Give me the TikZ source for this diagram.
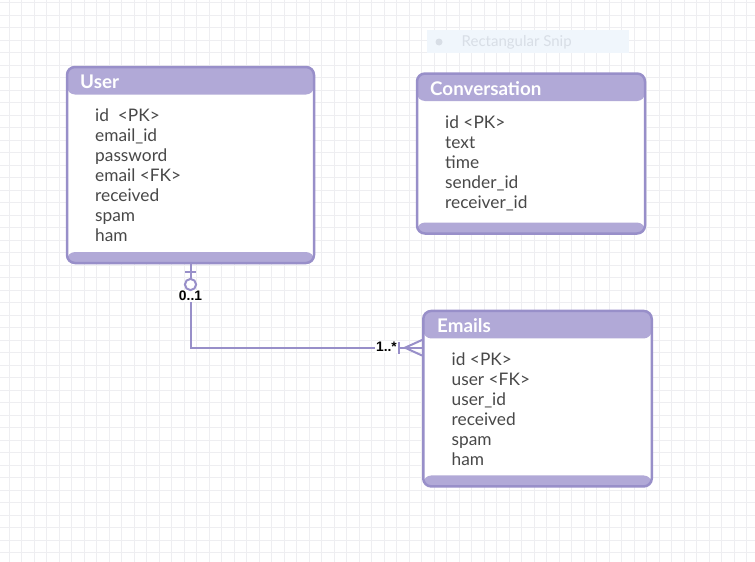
\documentclass[tikz,border=0pt]{standalone}
\usepackage{fontspec}
\setmainfont{Lato}
\newfontfamily\lblfont{Liberation Sans}
\usetikzlibrary{calc}
\definecolor{bord}{RGB}{152,143,201}
\definecolor{hdr}{RGB}{177,169,215}
\definecolor{gridc}{RGB}{238,238,241}
\definecolor{txt}{RGB}{72,72,72}
\definecolor{snipbg}{RGB}{240,246,252}
\definecolor{sniptx}{RGB}{216,222,230}
\tikzset{
  entity/.style={draw=bord, line width=2.5pt, rounded corners=8pt, fill=white, inner sep=0pt,
    path picture={
      \fill[hdr] (path picture bounding box.north west) rectangle ([yshift=-27.5pt]path picture bounding box.north east);
      \fill[hdr] (path picture bounding box.south west) rectangle ([yshift=11pt]path picture bounding box.south east);
    }},
  hdrtext/.style={anchor=west, text=white, font=\fontsize{18.8}{20}\selectfont\bfseries, inner sep=0pt},
  field/.style={anchor=base west, text=txt, font=\fontsize{17.3}{20}\selectfont, inner sep=0pt},
  conn/.style={draw=bord, line width=2pt},
  card/.style={font=\lblfont\fontsize{13.8}{14}\selectfont\bfseries, text=black, inner sep=1pt}
}
\begin{document}
\begin{tikzpicture}[x=1pt,y=-1pt]
\useasboundingbox (0,0) rectangle (755,562);
% grid
\foreach \i in {0,...,60} \draw[gridc, line width=1pt] ({9+12.5*\i},0) -- ({9+12.5*\i},562);
\foreach \j in {0,...,45} \draw[gridc, line width=1pt] (0,{2.7+12.5*\j}) -- (755,{2.7+12.5*\j});

% faint snip overlay
\node[fill=snipbg, minimum width=202pt, minimum height=23pt, inner sep=0pt] (snip) at (528,41.5) {};
\node[circle, fill=sniptx, minimum size=7pt, inner sep=0pt] (snipdot) at (439,42) {};
\node[anchor=west, text=sniptx, font=\fontsize{15}{16}\selectfont, inner sep=0pt] (sniptext) at (461.5,42) {Rectangular Snip};

% User
\node[entity, minimum width=247pt, minimum height=196pt] (user) at (190.5,165) {};
\node[hdrtext] (userh) at (80,82) {User};
\foreach \t [count=\k] in {id\ \ <PK>, email\_id, password, email <FK>, received, spam, ham}
  \node[field] (uf\k) at (95,{121.5+20*(\k-1)}) {\t};

% Conversation
\node[entity, minimum width=228pt, minimum height=160pt] (conv) at (531,153.5) {};
\node[hdrtext] (convh) at (430,88.5) {Conversation};
\foreach \t [count=\k] in {id <PK>, text, time, sender\_id, receiver\_id}
  \node[field] (cf\k) at (445,{128+20*(\k-1)}) {\t};

% Emails
\node[entity, minimum width=228.5pt, minimum height=175.5pt] (emails) at (537.5,398.7) {};
\node[hdrtext] (emailsh) at (437,326) {Emails};
\foreach \t [count=\k] in {id <PK>, user <FK>, user\_id, received, spam, ham}
  \node[field] (ef\k) at (451.5,{365.5+20*(\k-1)}) {\t};

% connector
\coordinate (ustart) at (user.south -| 190.5,0);
\coordinate (ebend) at (190.5,347.7);
\draw[conn] (user.south -| ustart) -- (ebend) -- (ebend -| emails.west);
\node[card, fill=white] (c01) at (190.5,296) {0..1};
\node[card, fill=white] (c1n) at (386.5,347) {1..*};
% User end: bar + circle
\coordinate (ubar) at (190.5,271.7);
\draw[conn] ([xshift=-5.5pt]ubar) -- ([xshift=5.5pt]ubar);
\draw[conn, fill=white] (190.5,284.5) circle[radius=5.6pt];
% Emails end: bar + crow's foot
\coordinate (efoot) at (405,347.7);
\draw[conn] (399.3,341.5) -- (399.3,354);
\draw[conn] (398,347.7) -- (emails.west |- efoot);
\draw[conn] (emails.west |- 0,340) -- (efoot) -- (emails.west |- 0,355.5);
\end{tikzpicture}
\end{document}
